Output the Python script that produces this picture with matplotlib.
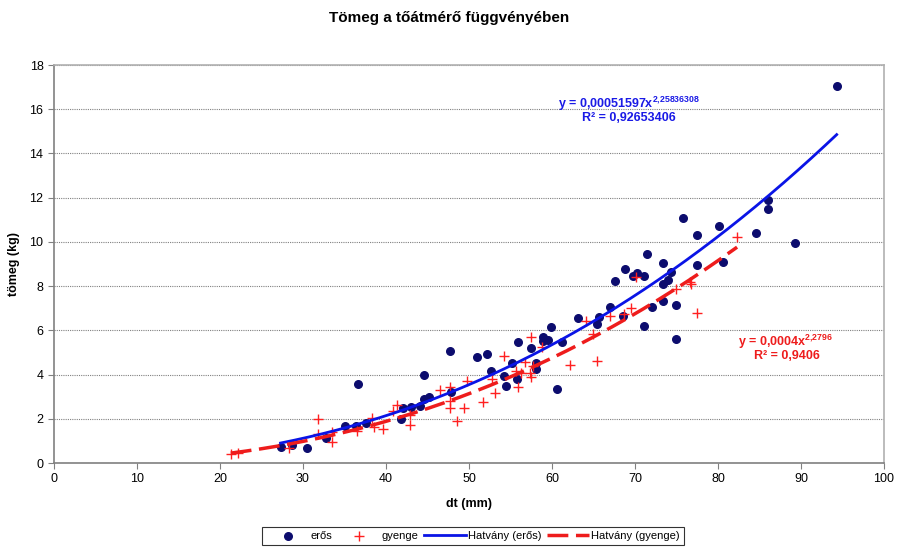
import matplotlib
matplotlib.use("Agg")
import matplotlib.pyplot as plt
import numpy as np

plt.rcParams['font.family'] = ['Liberation Sans', 'DejaVu Sans']
plt.rcParams['mathtext.fontset'] = 'custom'
plt.rcParams['mathtext.rm'] = 'Liberation Sans:bold'
plt.rcParams['mathtext.bf'] = 'Liberation Sans:bold'

# erős (strong) trees: diameter (mm), mass (kg)
eros_x = [27.3, 28.7, 30.5, 32.8, 35.1, 36.4, 36.6, 37.6, 41.8, 42.0, 43.0, 44.1,
          44.6, 45.2, 44.6, 47.7, 47.8, 51.0, 52.2, 52.6, 54.2, 54.5, 55.2, 55.8,
          55.9, 57.5, 58.1, 58.1, 58.9, 59.5, 58.9, 59.9, 60.6, 61.2, 63.1, 65.4,
          65.7, 67.0, 67.6, 68.6, 68.8, 69.8, 70.2, 71.1, 71.1, 71.4, 72.0, 73.4,
          73.4, 73.4, 74.0, 74.3, 74.9, 74.9, 75.8, 77.5, 77.5, 80.1, 80.6, 84.6,
          86.0, 86.0, 89.3, 94.3]
eros_y = [0.72, 0.81, 0.68, 1.13, 1.67, 1.67, 3.57, 1.83, 1.99, 2.49, 2.55, 2.58,
          2.90, 3.00, 3.98, 5.07, 3.19, 4.80, 4.93, 4.14, 3.93, 3.48, 4.52, 3.80,
          5.47, 5.20, 4.52, 4.25, 5.70, 5.56, 5.52, 6.15, 3.35, 5.47, 6.56, 6.29,
          6.60, 7.06, 8.23, 6.65, 8.78, 8.46, 8.60, 8.46, 6.20, 9.45, 7.06, 7.33,
          8.10, 9.05, 8.28, 8.64, 7.15, 5.60, 11.10, 8.95, 10.30, 10.70, 9.10, 10.40,
          11.50, 11.90, 9.96, 17.05]

# gyenge (weak) trees
gyenge_x = [21.3, 22.2, 28.3, 31.8, 31.8, 33.5, 33.5, 36.5, 38.3, 38.5, 39.6, 40.8,
            41.3, 42.9, 42.9, 46.5, 47.7, 47.7, 47.7, 48.5, 49.4, 49.8, 51.7, 52.8,
            53.1, 54.2, 55.7, 55.9, 56.3, 56.7, 57.3, 57.5, 57.5, 57.7, 58.8, 62.2,
            64.1, 64.9, 65.4, 67.0, 68.7, 69.5, 70.1, 74.9, 76.6, 76.8, 77.5, 82.3]
gyenge_y = [0.42, 0.45, 0.68, 1.99, 1.31, 1.40, 0.95, 1.45, 2.02, 1.65, 1.54, 2.35,
            2.62, 2.17, 1.70, 3.28, 3.44, 2.80, 2.49, 1.90, 2.47, 3.73, 2.78, 3.82,
            3.17, 4.82, 4.15, 3.46, 4.07, 4.57, 4.07, 3.89, 5.70, 4.39, 5.25, 4.43,
            6.42, 5.83, 4.61, 6.63, 6.75, 7.00, 8.41, 7.86, 8.20, 8.10, 6.80, 10.22]

# power trendlines (coefficient of the weak one)
eros_a, eros_b = 0.00051597, 2.25836308
gyenge_a, gyenge_b = 0.00042, 2.2796

fig = plt.figure(figsize=(8.98, 5.49), dpi=100)
ax = fig.add_axes([0.0601, 0.1566, 0.9243, 0.725])

ax.scatter(eros_x, eros_y, s=30, color='#0c0c6e', zorder=3, label='erős')
ax.scatter(gyenge_x, gyenge_y, s=45, marker='+', color='#ff2020', linewidths=1.0,
           zorder=3, label='gyenge')

xs = np.linspace(min(eros_x), max(eros_x), 200)
ax.plot(xs, eros_a * xs ** eros_b, color='#0a14e6', lw=2.0, zorder=4,
        label='Hatvány (erős)')
xs = np.linspace(min(gyenge_x), max(gyenge_x), 200)
ax.plot(xs, gyenge_a * xs ** gyenge_b, color='#ee1c1c', lw=2.5, dashes=(6, 2.2),
        zorder=4, label='Hatvány (gyenge)')

ax.set_xlim(0, 100)
ax.set_ylim(0, 18)
ax.set_xticks(range(0, 101, 10))
ax.set_yticks(range(0, 19, 2))
ax.tick_params(labelsize=9, direction='out', length=4, color='#808080')
ax.yaxis.grid(True, linestyle=(0, (1, 1)), color='#808080', lw=0.8)
ax.set_axisbelow(True)
for side in ['left', 'bottom']:
    ax.spines[side].set_color('#808080')
    ax.spines[side].set_linewidth(1.2)
for side in ['top', 'right']:
    ax.spines[side].set_color('#b0b0b0')
    ax.spines[side].set_linewidth(1.2)

ax.set_xlabel('dt (mm)', fontsize=9, fontweight='bold', labelpad=9)
ax.set_ylabel('tömeg (kg)', fontsize=9, fontweight='bold', labelpad=7)
fig.text(0.5, 0.968, 'Tömeg a tőátmérő függvényében', ha='center', va='center',
         fontsize=11, fontweight='bold')

ax.text(69.3, 16.24, r'y = 0,00051597x$^{2{,}25836308}$', color='#1a1ae6',
        ha='center', va='center', fontsize=9, fontweight='bold')
ax.text(69.3, 15.6, 'R² = 0,92653406', color='#1a1ae6', ha='center', va='center',
        fontsize=9, fontweight='bold')
ax.text(88.1, 5.47, r'y = 0,0004x$^{2{,}2796}$', color='#ee1c1c', ha='center',
        va='center', fontsize=9, fontweight='bold')
ax.text(88.3, 4.84, 'R² = 0,9406', color='#ee1c1c', ha='center', va='center',
        fontsize=9, fontweight='bold')

leg = fig.legend(loc='center', bbox_to_anchor=(0.527, 0.0237), ncol=4, fontsize=8,
                 frameon=True, fancybox=False, edgecolor='black', handlelength=3.8,
                 columnspacing=0.5, handletextpad=0.15, borderpad=0.4)
leg.get_frame().set_linewidth(0.8)

fig.savefig('out.png', dpi=100)
